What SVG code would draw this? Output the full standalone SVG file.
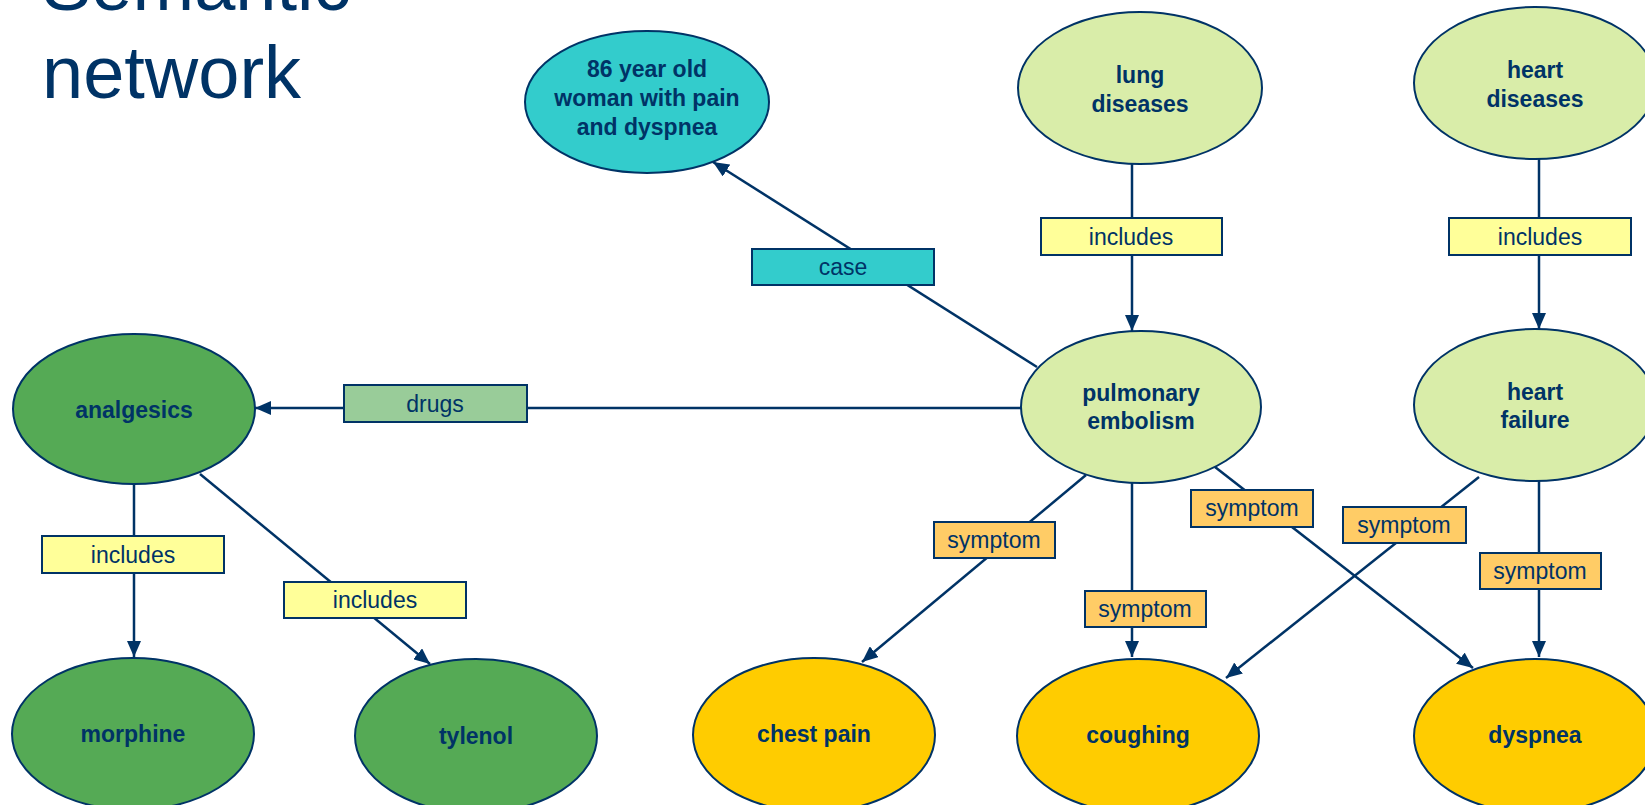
<svg xmlns="http://www.w3.org/2000/svg" width="1645" height="805" viewBox="0 0 1645 805">
<style>
.n{stroke:#003366;stroke-width:2}
.t{font-family:"Liberation Sans",Arial,sans-serif;font-weight:bold;font-size:23px;fill:#003366;text-anchor:middle}
.l{font-family:"Liberation Sans",Arial,sans-serif;font-size:23px;fill:#003366;text-anchor:middle}
.e{stroke:#003366;stroke-width:2.5;fill:none}
.b{stroke:#003366;stroke-width:2}
.inc{fill:#FFFF99}
.sym{fill:#FFCC66}
.lg{fill:#D9EDA9}
.gr{fill:#55AA55}
.yl{fill:#FFCC00}
.title{font-family:"Liberation Sans",Arial,sans-serif;font-size:74px;fill:#003366}
</style>
<defs>
<marker id="arr" markerUnits="userSpaceOnUse" markerWidth="17" markerHeight="14" refX="16" refY="7" orient="auto">
<path d="M0,0 L16,7 L0,14 z" fill="#003366"/>
</marker>
</defs>
<rect width="1645" height="805" fill="#FFFFFF"/>
<g id="title">
<text class="title" x="42" y="10">Semantic</text>
<text class="title" x="42" y="98">network</text>
</g>
<g id="connectors">
<line class="e" x1="1037" y1="367" x2="713" y2="162" marker-end="url(#arr)"/>
<line class="e" x1="1132" y1="164" x2="1132" y2="331" marker-end="url(#arr)"/>
<line class="e" x1="1539" y1="159" x2="1539" y2="329" marker-end="url(#arr)"/>
<line class="e" x1="1021" y1="408" x2="255" y2="408" marker-end="url(#arr)"/>
<line class="e" x1="134" y1="485" x2="134" y2="657" marker-end="url(#arr)"/>
<line class="e" x1="200" y1="474" x2="430" y2="664" marker-end="url(#arr)"/>
<line class="e" x1="1086" y1="475" x2="862" y2="662" marker-end="url(#arr)"/>
<line class="e" x1="1132" y1="483" x2="1132" y2="657" marker-end="url(#arr)"/>
<line class="e" x1="1215" y1="467" x2="1473" y2="668" marker-end="url(#arr)"/>
<line class="e" x1="1479" y1="477" x2="1226" y2="678" marker-end="url(#arr)"/>
<line class="e" x1="1539" y1="481" x2="1539" y2="657" marker-end="url(#arr)"/>
<g id="labels">
<rect class="b" fill="#33CCCC" x="752" y="249" width="182" height="36"/>
<text class="l" x="843" y="275">case</text>
<rect class="b inc" x="1041" y="218" width="181" height="37"/>
<text class="l" x="1131" y="245">includes</text>
<rect class="b inc" x="1449" y="218" width="182" height="37"/>
<text class="l" x="1540" y="245">includes</text>
<rect class="b" fill="#99CC99" x="344" y="385" width="183" height="37"/>
<text class="l" x="435" y="412">drugs</text>
<rect class="b inc" x="42" y="536" width="182" height="37"/>
<text class="l" x="133" y="563">includes</text>
<rect class="b inc" x="284" y="582" width="182" height="36"/>
<text class="l" x="375" y="608">includes</text>
<rect class="b sym" x="934" y="522" width="121" height="36"/>
<text class="l" x="994" y="548">symptom</text>
<rect class="b sym" x="1085" y="591" width="121" height="36"/>
<text class="l" x="1145" y="617">symptom</text>
<rect class="b sym" x="1191" y="490" width="122" height="37"/>
<text class="l" x="1252" y="516">symptom</text>
<rect class="b sym" x="1343" y="507" width="123" height="36"/>
<text class="l" x="1404" y="533">symptom</text>
<rect class="b sym" x="1480" y="553" width="121" height="36"/>
<text class="l" x="1540" y="579">symptom</text>
</g>
</g>
<g id="node-case">
<ellipse class="n" fill="#33CCCC" cx="647" cy="102" rx="122" ry="71"/>
<text class="t" x="647" y="77">86 year old</text>
<text class="t" x="647" y="106">woman with pain</text>
<text class="t" x="647" y="135">and dyspnea</text>
</g>
<g id="node-lung">
<ellipse class="n lg" cx="1140" cy="88" rx="122" ry="76"/>
<text class="t" x="1140" y="83">lung</text>
<text class="t" x="1140" y="112">diseases</text>
</g>
<g id="node-heartdiseases">
<ellipse class="n lg" cx="1535" cy="83" rx="121" ry="76"/>
<text class="t" x="1535" y="78">heart</text>
<text class="t" x="1535" y="107">diseases</text>
</g>
<g id="node-pe">
<ellipse class="n lg" cx="1141" cy="407" rx="120" ry="76"/>
<text class="t" x="1141" y="401">pulmonary</text>
<text class="t" x="1141" y="429">embolism</text>
</g>
<g id="node-hf">
<ellipse class="n lg" cx="1535" cy="405" rx="121" ry="76"/>
<text class="t" x="1535" y="400">heart</text>
<text class="t" x="1535" y="428">failure</text>
</g>
<g id="node-analgesics">
<ellipse class="n gr" cx="134" cy="409" rx="121" ry="75"/>
<text class="t" x="134" y="418">analgesics</text>
</g>
<g id="node-morphine">
<ellipse class="n gr" cx="133" cy="734" rx="121" ry="76"/>
<text class="t" x="133" y="742">morphine</text>
</g>
<g id="node-tylenol">
<ellipse class="n gr" cx="476" cy="736" rx="121" ry="77"/>
<text class="t" x="476" y="744">tylenol</text>
</g>
<g id="node-chestpain">
<ellipse class="n yl" cx="814" cy="735" rx="121" ry="77"/>
<text class="t" x="814" y="742">chest pain</text>
</g>
<g id="node-coughing">
<ellipse class="n yl" cx="1138" cy="736" rx="121" ry="77"/>
<text class="t" x="1138" y="743">coughing</text>
</g>
<g id="node-dyspnea">
<ellipse class="n yl" cx="1535" cy="736" rx="121" ry="77"/>
<text class="t" x="1535" y="743">dyspnea</text>
</g>
</svg>
